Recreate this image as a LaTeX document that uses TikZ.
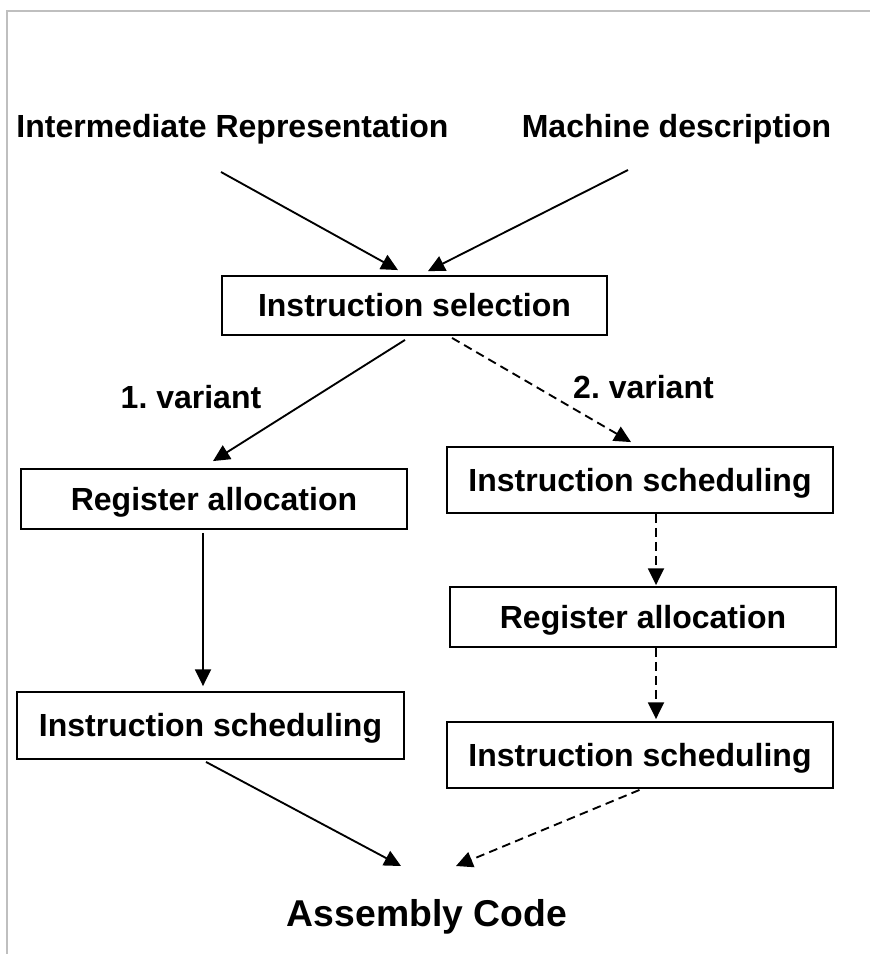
\documentclass[tikz,border=0pt]{standalone}
\usepackage{fontspec}
\setmainfont{Liberation Sans}
\usetikzlibrary{arrows.meta}
\frenchspacing
\begin{document}
\begin{tikzpicture}[x=0.75pt,y=-0.75pt,
  every node/.style={font=\fontsize{24}{28}\selectfont\bfseries},
  stage/.style={draw, line width=1.4pt, inner sep=0pt, text height=17.2pt, text depth=0pt},
  flow/.style={line width=1.4pt, -{Triangle[length=12.5pt,width=12pt]}},
  alt/.style={flow, dash pattern=on 6.5pt off 4pt},
  frame/.style={draw=black!25, line width=1.5pt}]
\useasboundingbox (0,0) rectangle (870,954);
% page frame
\draw[frame] (7,954) -- (7,11) -- (870,11);

% inputs
\node[anchor=base] (ir) at (232.5,137) {Intermediate Representation};
\node[anchor=base] (md) at (676.5,137) {Machine description};
\coordinate (irS) at (221,172);
\coordinate (mdS) at (628,170);

% stages
\node[stage, minimum width=288.75pt, minimum height=44.25pt] (sel) at (414.5,305.5) {Instruction selection};
\node[stage, minimum width=289.5pt, minimum height=45pt] (regL) at (214,499) {Register allocation};
\node[stage, minimum width=290.25pt, minimum height=50.25pt] (schedL) at (210.5,725.5) {Instruction scheduling};
\node[stage, minimum width=289.5pt, minimum height=49.5pt] (schedR1) at (640,480) {Instruction scheduling};
\node[stage, minimum width=289.5pt, minimum height=45pt] (regR) at (643,617) {Register allocation};
\node[stage, minimum width=289.5pt, minimum height=49.5pt] (schedR2) at (640,755) {Instruction scheduling};

% labels and output
\node[anchor=base] (v1) at (191,408) {1. variant};
\node[anchor=base] (v2) at (643.5,398) {2. variant};
\node[anchor=base, font=\fontsize{28}{32}\selectfont\bfseries] (asm) at (427,926) {Assembly Code};

% connectors
\draw[flow] (irS) -- ([shift={(-16.5,-5)}]sel.north);
\draw[flow] (mdS) -- ([shift={(13.5,-4)}]sel.north);

\draw[flow] ([shift={(-9.5,4)}]sel.south) -- ([shift={(-1,-7)}]regL.north);
\draw[flow] ([shift={(-11,3)}]regL.south) -- ([shift={(-7.5,-5)}]schedL.north);
\draw[flow] ([shift={(-4.5,2)}]schedL.south) -- ([shift={(-26,-60)}]asm.base);

\draw[alt] ([shift={(37.5,2)}]sel.south) -- ([shift={(-9,-4)}]schedR1.north);
\draw[alt] ([shift={(16,0)}]schedR1.south) -- ([shift={(13,-1)}]regR.north);
\draw[alt] ([shift={(13,0)}]regR.south) -- ([shift={(16,-2)}]schedR2.north);
\draw[alt] ([shift={(-0.5,1)}]schedR2.south) -- ([shift={(29,-60)}]asm.base);
\end{tikzpicture}
\end{document}
